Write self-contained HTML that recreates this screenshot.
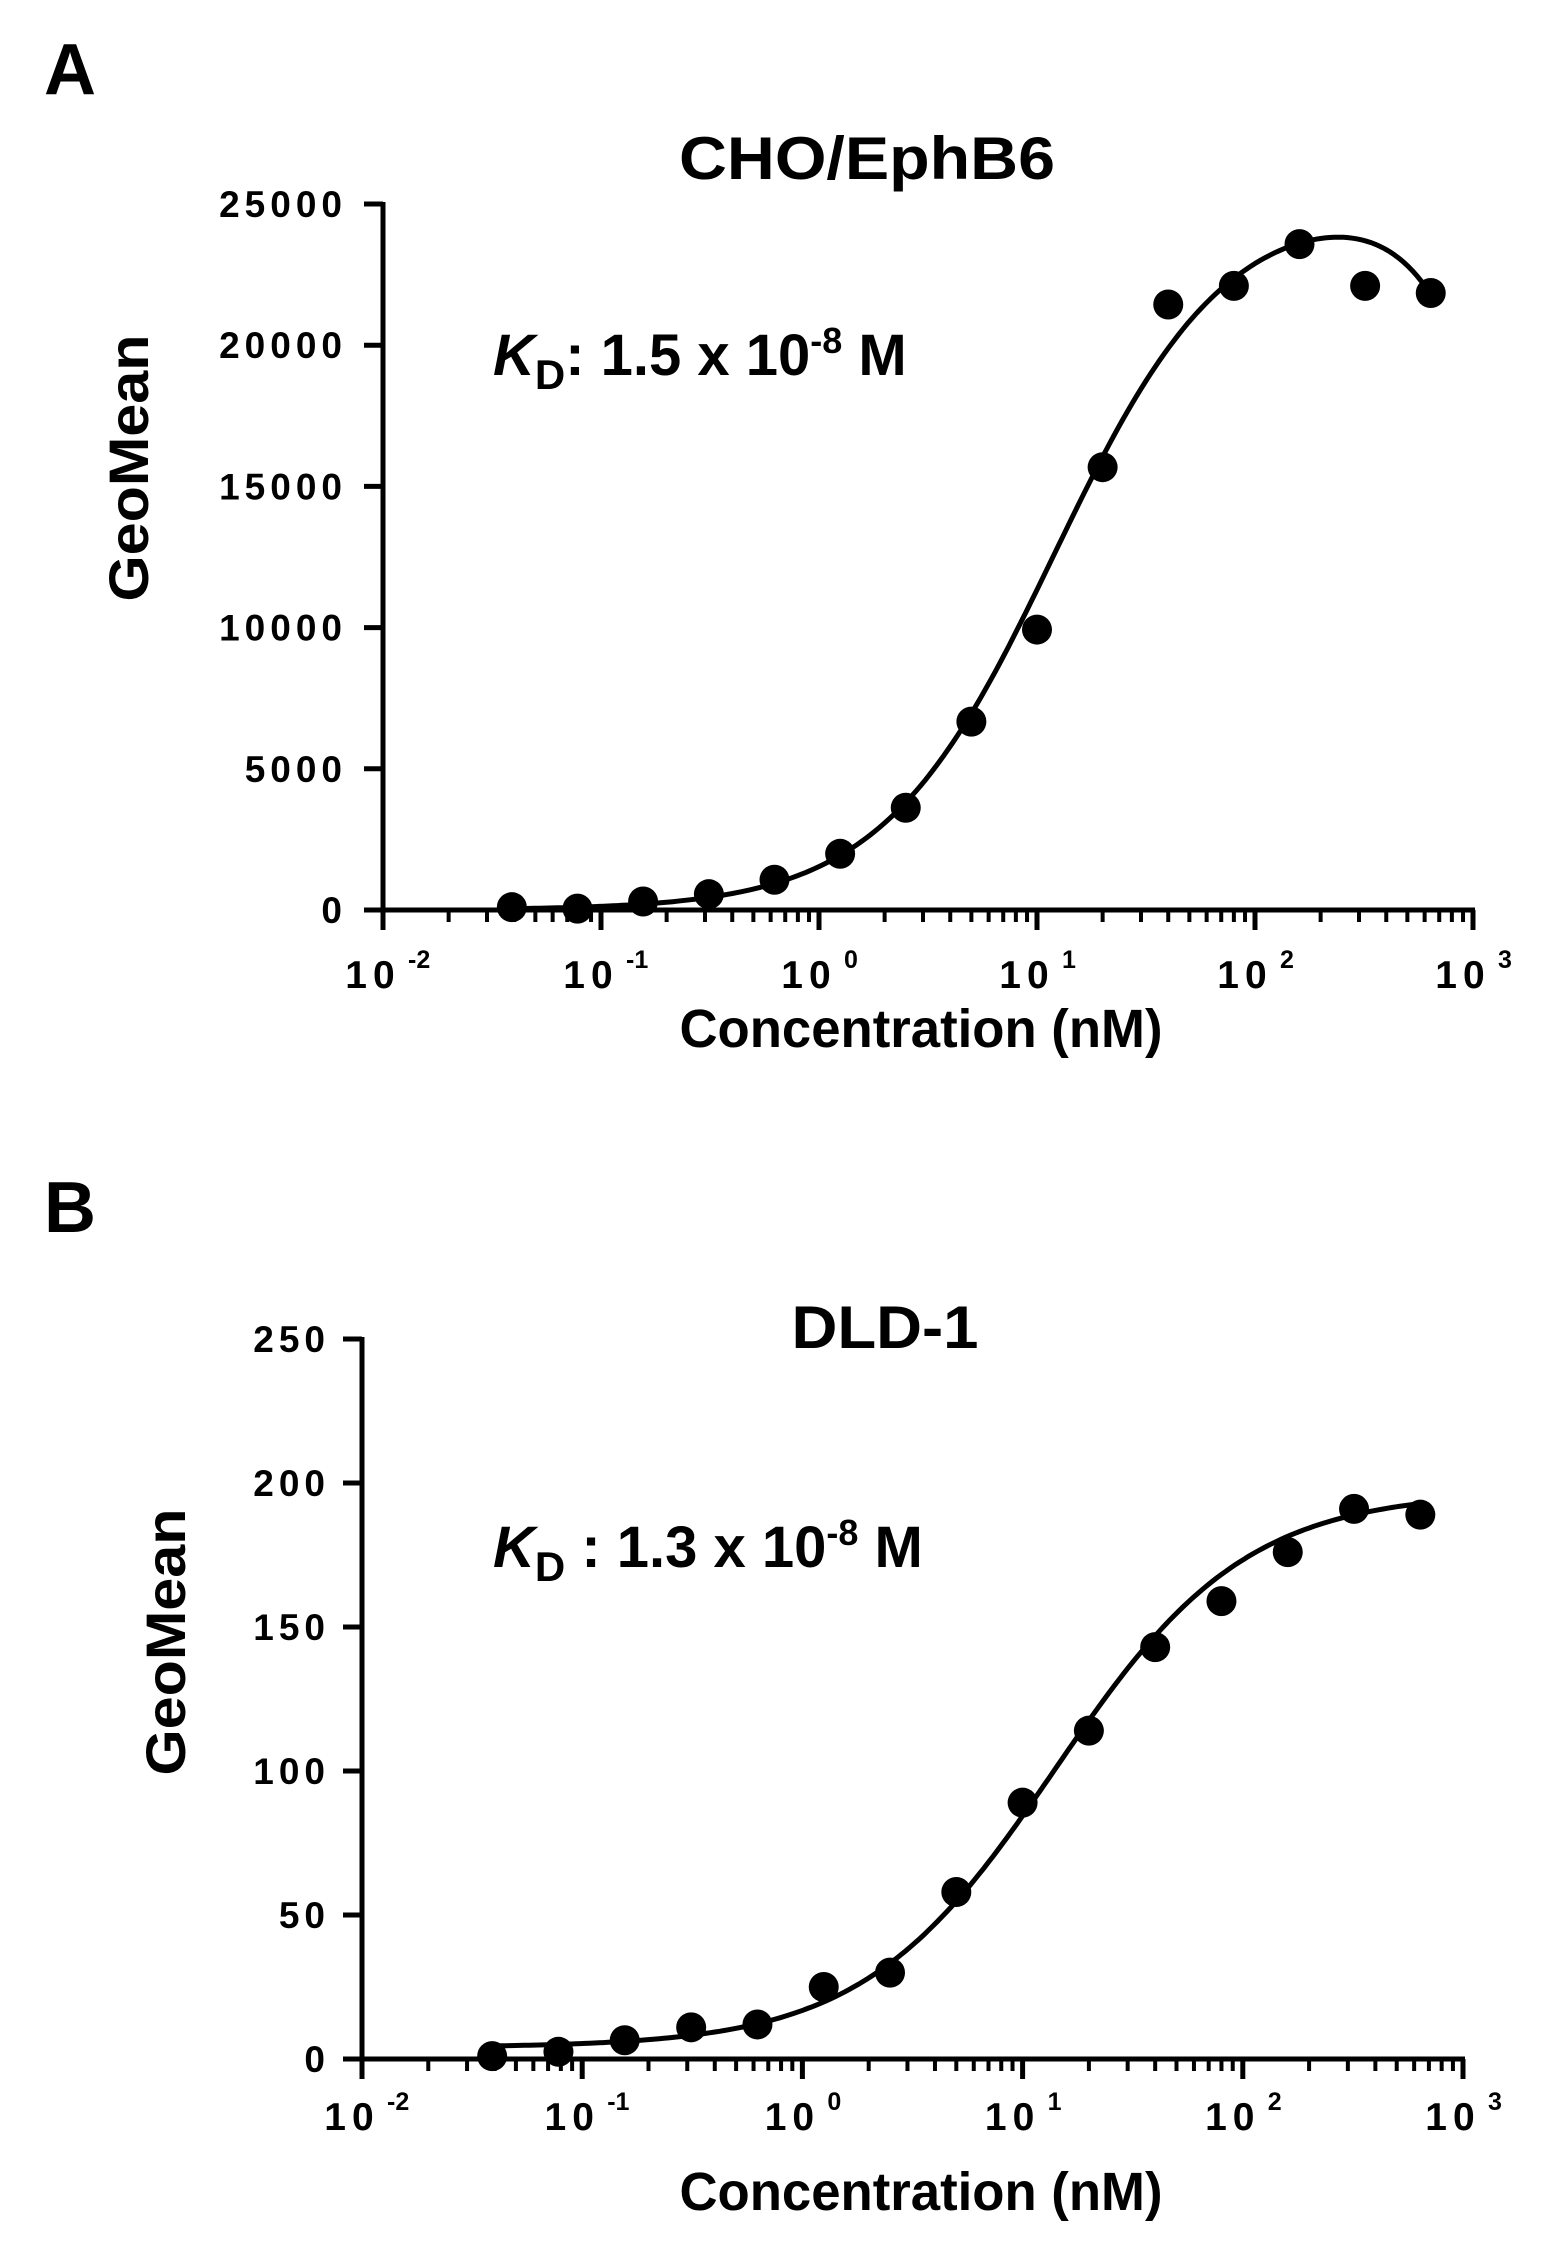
<!DOCTYPE html>
<html><head><meta charset="utf-8"><style>
html,body{margin:0;padding:0;background:#fff}
svg{display:block}
text{font-family:"Liberation Sans",sans-serif;font-weight:bold;fill:#000}
</style></head><body>
<svg id="fig" width="1548" height="2255" viewBox="0 0 1548 2255">
<text x="44" y="94" font-size="72">A</text>
<text x="44" y="1232" font-size="72">B</text>
</svg>
<script>
const concA = [0.039,0.078,0.156,0.3125,0.625,1.25,2.5,5,10,20,40,80,160,320,640];
const valuesA = [100,50,300,560,1070,1990,3620,6670,9930,15680,21440,22100,23580,22100,21850];
const yTicksA = [0,5000,10000,15000,20000,25000];
const fitA = [25200,12,1.1,1700];
const concB = [0.039,0.078,0.156,0.3125,0.625,1.25,2.5,5,10,20,40,80,160,320,640];
const valuesB = [1,2.5,6.5,11,12,25,30,58,89,114,143,159,176,191,189];
const yTicksB = [0,50,100,150,200,250];
const fitB = [4,197,14,1.0];
const xDecades = [-2,-1,0,1,2,3];

const NS='http://www.w3.org/2000/svg';
const svg=document.getElementById('fig');
function mk(tag,attrs,parent){const e=document.createElementNS(NS,tag);for(const k in attrs)e.setAttribute(k,attrs[k]);(parent||svg).appendChild(e);return e;}

function panel(p){
  const g=mk('g',{});
  
  
  const xs=v=>p.x0+(Math.log10(v)+2)/5*(p.x1-p.x0);
  const ys=v=>p.y0-v/p.ymax*(p.y0-p.ytop);
  const ya=mk('line',{x1:p.x0,y1:p.ytop-2,x2:p.x0,y2:p.y0+19,stroke:'#000','stroke-width':5},g);
  
  
  const xa=mk('line',{x1:p.x0-19,y1:p.y0,x2:p.x1+2,y2:p.y0,stroke:'#000','stroke-width':5},g);
  
  
  p.yt.forEach(v=>{
    const y=ys(v);
    const t=mk('line',{x1:p.x0-19,y1:y,x2:p.x0,y2:y,stroke:'#000','stroke-width':5},g);
    
    
    const l=mk('text',{x:p.lblR,y:y+13,'font-size':37,'text-anchor':'end','letter-spacing':'5'},g);
    l.textContent=String(v);
    
    
  });
  xDecades.forEach((d,i)=>{
    const x=xs(Math.pow(10,d));
    const t=mk('line',{x1:x,y1:p.y0,x2:x,y2:p.y0+20,stroke:'#000','stroke-width':5},g);
    
    
    if(i<xDecades.length-1){
      for(let m=2;m<=9;m++){
        const xm=xs(m*Math.pow(10,d));
        const tm=mk('line',{x1:xm,y1:p.y0,x2:xm,y2:p.y0+12,stroke:'#000','stroke-width':4},g);
        
        
      }
    }
    const l=mk('text',{x:x-10,y:p.xlblY,'font-size':39,'text-anchor':'middle','letter-spacing':'6'},g);
    l.textContent='10';
    
    
    const sp=mk('text',{x:x+25,y:p.xlblY-20,'font-size':25},g);
    sp.textContent=String(d);
    
    
  });
  let dstr='';
  const lo=Math.log10(p.conc[0]),hi=Math.log10(p.conc[p.conc.length-1]);
  for(let i=0;i<=200;i++){
    const lx=lo+(hi-lo)*i/200,x=Math.pow(10,lx);
    dstr+=(i?'L':'M')+xs(x).toFixed(1)+','+ys(p.model(x)).toFixed(1);
  }
  const c=mk('path',{d:dstr,fill:'none',stroke:'#000','stroke-width':5,'stroke-linecap':'round'},g);
  
  
  p.conc.forEach((cx,i)=>{
    const pt=mk('circle',{cx:xs(cx),cy:ys(p.vals[i]),r:15,fill:'#000'},g);
    
    
  });
  const tt=mk('text',{x:p.titleX,y:p.titleY,'font-size':60,'text-anchor':'middle',textLength:p.titleW,lengthAdjust:'spacingAndGlyphs'},g);
  tt.textContent=p.title;
  
  
  const xt=mk('text',{x:p.xtX,y:p.xtY,'font-size':54,'text-anchor':'middle',textLength:483,lengthAdjust:'spacingAndGlyphs'},g);
  xt.textContent='Concentration (nM)';
  
  
  const yt=mk('text',{x:0,y:0,'font-size':56,'text-anchor':'middle',textLength:267,lengthAdjust:'spacingAndGlyphs',transform:`translate(${p.ytX},${p.ytY}) rotate(-90)`},g);
  yt.textContent='GeoMean';
  
  
  const kd=mk('text',{x:p.kdX,y:p.kdY,'font-size':58},g);
  
  
  const k=mk('tspan',{'font-style':'italic'},kd);k.textContent='K';
  const sub=mk('tspan',{dy:14,'font-size':42},kd);sub.textContent='D';
  const r1=mk('tspan',{dy:-14},kd);r1.textContent=p.kdText;
  const sup=mk('tspan',{dy:-22,'font-size':36},kd);sup.textContent='-8';
  const r2=mk('tspan',{dy:22},kd);r2.textContent=' M';
}

panel({name:'panel-a-chart',x0:383,x1:1473,y0:910,ytop:204,ymax:25000,yt:yTicksA,lblR:347,xlblY:988,
  conc:concA,vals:valuesA,
  model:x=>fitA[0]/(1+Math.pow(fitA[1]/x,fitA[2]))/(1+Math.pow(x/fitA[3],2)),
  title:'CHO/EphB6',titleX:867,titleY:179,titleW:376,xtX:921,xtY:1047,ytX:148,ytY:468,
  kdX:493,kdY:375,kdText:':  1.5 x 10'});
panel({name:'panel-b-chart',x0:362,x1:1463,y0:2059,ytop:1339,ymax:250,yt:yTicksB,lblR:330,xlblY:2130,
  conc:concB,vals:valuesB,
  model:x=>fitB[0]+(fitB[1]-fitB[0])/(1+Math.pow(fitB[2]/x,fitB[3])),
  title:'DLD-1',titleX:885,titleY:1348,titleW:187,xtX:921,xtY:2210,ytX:185,ytY:1642,
  kdX:493,kdY:1567,kdText:' : 1.3 x 10'});
</script>
</body></html>
